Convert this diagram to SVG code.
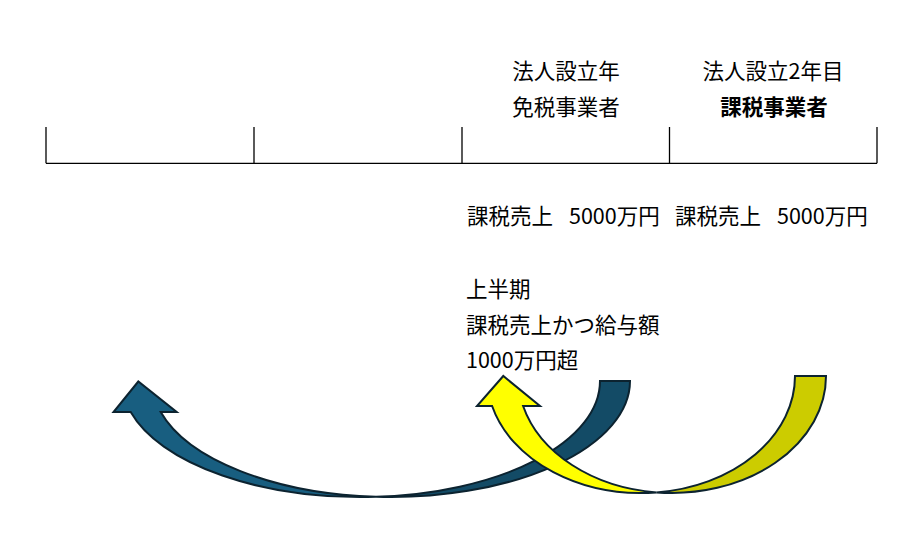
<svg xmlns="http://www.w3.org/2000/svg" width="922" height="535" viewBox="0 0 922 535">
  <style>
    .axis { stroke: #000; stroke-width: 1.3; fill: none; }
    .lbl { font-family: "Noto Sans CJK JP", "Noto Sans", sans-serif; font-size: 21.5px; fill: #000; }
    .mid { text-anchor: middle; }
    .bold { font-weight: bold; }
    .arrow { stroke: #0c2330; stroke-width: 2; stroke-linejoin: miter; }
    .blue-lit { fill: #185e80; }
    .blue-dark { fill: #134b66; }
    .yel-lit { fill: #ffff00; }
    .yel-dark { fill: #cccc00; }
  </style>
  <rect width="922" height="535" fill="#fff"/>
  <g id="timeline">
    <line class="axis" x1="46" y1="163.3" x2="877" y2="163.3"/>
    <line class="axis" x1="46" y1="127" x2="46" y2="163.3"/>
    <line class="axis" x1="254" y1="127" x2="254" y2="163.3"/>
    <line class="axis" x1="462" y1="127" x2="462" y2="163.3"/>
    <line class="axis" x1="669.5" y1="127" x2="669.5" y2="163.3"/>
    <line class="axis" x1="877" y1="127" x2="877" y2="163.3"/>
  </g>
  <g id="year1-header">
    <text class="lbl mid" x="566" y="79">法人設立年</text>
    <text class="lbl mid" x="566" y="115">免税事業者</text>
  </g>
  <g id="year2-header">
    <text class="lbl mid" x="773" y="79">法人設立2年目</text>
    <text class="lbl mid bold" x="774" y="115">課税事業者</text>
  </g>
  <g id="year1-sales">
    <text class="lbl" x="467" y="224">課税売上 <tspan x="569">5000万円</tspan></text>
  </g>
  <g id="year2-sales">
    <text class="lbl" x="675" y="224">課税売上 <tspan x="777">5000万円</tspan></text>
  </g>
  <g id="condition">
    <text class="lbl" x="466" y="297">上半期</text>
    <text class="lbl" x="466" y="333">課税売上かつ給与額</text>
    <text class="lbl" x="466" y="368">1000万円超</text>
  </g>
  <g id="connectors">
    <g id="arrow-blue">
      <path class="arrow blue-dark" d="M376,496.8 A239,116 0 0 0 630,381 L600,381 A239,116 0 0 1 376,496.8 Z"/>
      <path class="arrow blue-lit" d="M130.7,412 L113.5,412 L138.3,381.5 L176.7,412 L160.7,412 A239,116 0 0 0 376,496.8 A239,116 0 0 1 130.7,412 Z"/>
    </g>
    <g id="arrow-yellow">
      <path class="arrow yel-dark" d="M656.5,492.4 A154,117 0 0 0 826,376 L795,376 A154,117 0 0 1 656.5,492.4 Z"/>
      <path class="arrow yel-lit" d="M492.1,406 L477,406 L503.3,376 L540,406 L523.1,406 A154,117 0 0 0 656.5,492.4 A154,117 0 0 1 492.1,406 Z"/>
    </g>
  </g>
</svg>
